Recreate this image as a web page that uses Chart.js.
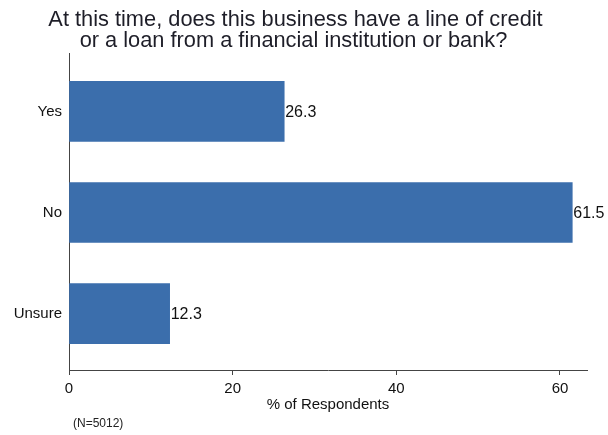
<!DOCTYPE html>
<html>
<head>
<meta charset="utf-8">
<script src="https://cdn.jsdelivr.net/npm/chart.js@4/dist/chart.umd.min.js"></script>
<style>
html,body{margin:0;padding:0;background:#fff;}
#wrap{width:608px;height:435px;position:relative;}
</style>
</head>
<body>
<div id="wrap"><canvas id="c" width="608" height="435"></canvas></div>
<script>
const titleLines = ["At this time, does this business have a line of credit", "or a loan from a financial institution or bank?"];
const categories = ["Yes", "No", "Unsure"];
const values = [26.3, 61.5, 12.3];
const xTicks = [0, 20, 40, 60];
const xAxisTitle = "% of Respondents";
const note = "(N=5012)";

const FONT = "'Liberation Sans', Arial, sans-serif";
const barColor = "#3b6eac";

const overlay = {
  id: 'overlay',
  afterDraw(chart) {
    const ctx = chart.ctx;
    ctx.save();
    // title
    ctx.fillStyle = '#1e1e28';
    ctx.font = "21.8px " + FONT;
    ctx.textAlign = 'center';
    ctx.textBaseline = 'alphabetic';
    ctx.fillText(titleLines[0], 295.5, 25.5);
    ctx.fillText(titleLines[1], 293.5, 46.5);
    // value labels
    const meta = chart.getDatasetMeta(0);
    ctx.font = "16px " + FONT;
    ctx.textAlign = 'left';
    ctx.textBaseline = 'middle';
    ctx.fillStyle = '#111';
    meta.data.forEach((el, i) => {
      ctx.fillText(values[i].toFixed(1), el.x + 1, el.y + 1);
    });
    // note
    ctx.font = "12px " + FONT;
    ctx.fillStyle = '#222';
    ctx.fillText(note, 73, 424);
    ctx.restore();
  }
};

new Chart(document.getElementById('c'), {
  type: 'bar',
  data: {
    datasets: [{
      data: values.map((v, i) => ({x: v, y: i})),
      backgroundColor: barColor,
      borderWidth: 0,
      barThickness: 60
    }]
  },
  options: {
    indexAxis: 'y',
    responsive: false,
    animation: false,
    devicePixelRatio: 1,
    layout: {padding: {top: 53, bottom: 15, left: 0, right: 21}},
    plugins: {legend: {display: false}, tooltip: {enabled: false}, title: {display: false}},
    scales: {
      x: {
        type: 'linear',
        min: 0,
        max: 63.3,
        offset: false,
        afterBuildTicks: s => { s.ticks = xTicks.map(v => ({value: v})); },
        afterFit: s => { s.height = 50; },
        grid: {drawOnChartArea: false, drawTicks: true, tickLength: 5, color: '#444', offset: false},
        border: {display: true, color: '#444', width: 1},
        ticks: {font: {family: FONT, size: 15}, color: '#111', padding: 5, maxRotation: 0},
        title: {display: true, text: xAxisTitle, font: {family: FONT, size: 15}, color: '#111', padding: {top: 0, bottom: 6}}
      },
      y: {
        type: 'linear',
        reverse: true,
        min: -0.577,
        max: 2.557,
        offset: false,
        afterBuildTicks: s => { s.ticks = categories.map((c, i) => ({value: i})); },
        afterFit: s => { s.width = 69; },
        grid: {display: true, drawOnChartArea: false, drawTicks: false, offset: false},
        border: {display: true, color: '#444', width: 1},
        ticks: {font: {family: FONT, size: 15}, color: '#111', padding: 7, callback: v => categories[v]}
      }
    }
  },
  plugins: [overlay]
});
</script>
</body>
</html>
